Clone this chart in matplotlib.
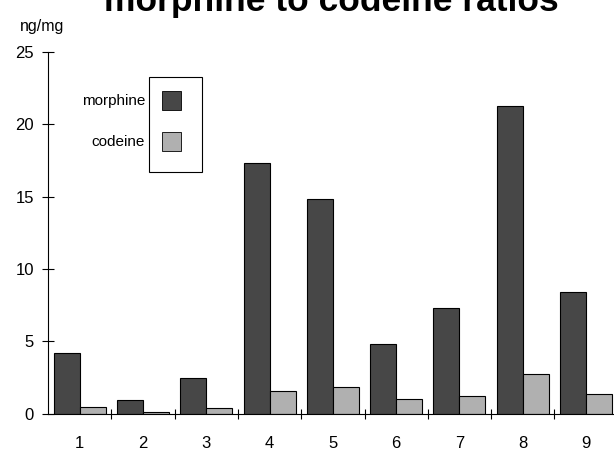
import numpy as np
import matplotlib
matplotlib.use("Agg")
import matplotlib.pyplot as plt
from matplotlib.patches import Rectangle

plt.rcParams["font.family"] = ["Liberation Sans", "DejaVu Sans"]

# values, ng/mg
samples = ["1", "2", "3", "4", "5", "6", "7", "8", "9"]
morphine = [4.2, 0.95, 2.5, 17.3, 14.85, 4.85, 7.3, 21.3, 8.45]
codeine = [0.5, 0.15, 0.38, 1.55, 1.85, 1.0, 1.2, 2.75, 1.35]
yticks = [0, 5, 10, 15, 20, 25]

W, H = 614, 450
fig = plt.figure(figsize=(W / 100, H / 100), dpi=100)


def fx(px):
    return px / W


def fy(py):
    return 1 - py / H


# axes box in pixels: left 48, right runs past the image edge
ax = fig.add_axes([fx(48), fy(413.8), (617.7 - 48) / W, (413.8 - 52) / H])

x = np.arange(1, len(samples) + 1)
bw = 0.41
dark = "#474747"
light = "#b0b0b0"
ax.bar(x - bw / 2, morphine, bw, color=dark, edgecolor="black", linewidth=0.8)
ax.bar(x + bw / 2, codeine, bw, color=light, edgecolor="black", linewidth=0.8)

ax.set_xlim(0.5, len(samples) + 0.5)
ax.set_ylim(0, 25)
ax.set_yticks(yticks)
ax.set_yticklabels([str(v) for v in yticks], fontsize=12)
ax.set_xticks(x)
ax.set_xticklabels(samples, fontsize=12)
ax.set_xticks(np.arange(1.5, len(samples), 1), minor=True)

ax.tick_params(axis="x", which="major", length=0, pad=16)
ax.tick_params(axis="x", which="minor", direction="inout", length=7, width=0.8)
ax.tick_params(axis="y", direction="inout", length=8, width=0.8, pad=6)

for s in ["top", "right"]:
    ax.spines[s].set_visible(False)
for s in ["left", "bottom"]:
    ax.spines[s].set_linewidth(0.8)

# title, cut off at the top of the scan
fig.text(fx(331), fy(11), "morphine to codeine ratios", fontsize=25.5,
         fontweight="bold", ha="center", va="baseline")
fig.text(fx(20), fy(27), "ng/mg", fontsize=11.5, ha="left", va="center")

# legend: labels outside to the left of the box
fig.add_artist(Rectangle((fx(149.3), fy(172)), (202 - 149.3) / W, (172 - 77.3) / H,
                         transform=fig.transFigure, fill=False,
                         edgecolor="black", linewidth=0.8))
for name, col, top in [("morphine", dark, 91), ("codeine", light, 132)]:
    fig.add_artist(Rectangle((fx(162), fy(top + 19)), 19 / W, 19 / H,
                             transform=fig.transFigure, facecolor=col,
                             edgecolor="black", linewidth=0.6))
    fig.text(fx(145), fy(top + 10), name, fontsize=11, ha="right", va="center")

fig.savefig("out.png", dpi=100)
